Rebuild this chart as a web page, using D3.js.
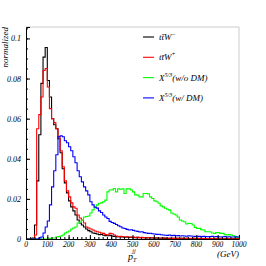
<!DOCTYPE html>
<html>
<head>
<meta charset="utf-8">
<script src="https://cdn.jsdelivr.net/npm/d3@7"></script>
<style>
  body { margin: 0; background: #fff; }
  svg text { font-family: "Liberation Serif", "DejaVu Serif", serif; font-style: italic; }
</style>
</head>
<body>
<div id="chart"></div>
<script>
// 10 GeV bins from 0 to 1000
const binWidth = 10;
const ttWminus = [0,0,0,0.0005,0.007,0.029,0.052,0.0776,0.0907,0.0955,0.079,0.0708,0.060,0.057,0.055,0.050,0.043,0.035,0.028,0.023,
  0.019,0.016,0.014,0.012,0.0095,0.008,0.007,0.006,0.005,0.0042,0.0036,0.003,0.0028,0.0025,0.0022,0.0023,0.0019,0.0017,0.0016,0.0018,
  0.0015,0.0013,0.0012,0.0011,0.0012,0.001,0.0009,0.001,0.0008,0.0009,0.0008,0.0007,0.0008,0.0006,0.0007,0.0006,0.0005,0.0006,0.0005,0.0005,
  0.0004,0.0005,0.0004,0.0004,0.0005,0.0003,0.0004,0.0003,0.0004,0.0003,0.0003,0.0003,0.0002,0.0003,0.0002,0.0003,0.0002,0.0002,0.0003,0.0002,
  0.0002,0.0002,0.0001,0.0002,0.0002,0.0001,0.0002,0.0001,0.0001,0.0002,0.0001,0.0001,0.0001,0.0001,0.0002,0.0001,0.0001,0.0001,0.0001,0.0001];
const ttWplus = [0,0,0,0,0.002,0.055,0.062,0.0708,0.084,0.085,0.0758,0.065,0.060,0.058,0.055,0.051,0.044,0.036,0.029,0.024,
  0.021,0.018,0.016,0.0153,0.012,0.0105,0.0095,0.008,0.006,0.0055,0.005,0.0045,0.004,0.0036,0.0034,0.003,0.0028,0.0022,0.002,0.0028,
  0.0026,0.002,0.0015,0.0012,0.0013,0.0011,0.001,0.0011,0.0009,0.001,0.0009,0.0008,0.0009,0.0007,0.0008,0.0007,0.0006,0.0007,0.0006,0.0006,
  0.0005,0.0006,0.0005,0.0005,0.0004,0.0005,0.0004,0.0004,0.0004,0.0003,0.0004,0.0003,0.0003,0.0004,0.0003,0.0003,0.0003,0.0002,0.0003,0.0003,
  0.0002,0.0003,0.0002,0.0002,0.0002,0.0002,0.0002,0.0002,0.0001,0.0002,0.0002,0.0001,0.0002,0.0001,0.0001,0.0002,0.0001,0.0001,0.0001,0.0001];
const xWithoutDM = [0,0,0,0,0,0,0,0,0,0,0,0.0003,0.0005,0.0005,0.001,0.0012,0.0015,0.002,0.003,0.0035,
  0.004,0.005,0.0055,0.006,0.008,0.0085,0.0095,0.011,0.0112,0.0115,0.013,0.0145,0.016,0.017,0.0178,0.018,0.0186,0.0194,0.0235,0.0244,
  0.0245,0.0252,0.0235,0.025,0.0248,0.025,0.0227,0.025,0.025,0.0244,0.0235,0.022,0.0219,0.021,0.021,0.0227,0.0227,0.0225,0.021,0.0202,
  0.019,0.0186,0.0178,0.0165,0.016,0.0153,0.0148,0.0144,0.013,0.0125,0.012,0.011,0.0095,0.009,0.0086,0.0075,0.0078,0.0077,0.007,0.0058,
  0.0053,0.0053,0.0046,0.0045,0.0036,0.0036,0.0036,0.003,0.0028,0.0032,0.0032,0.0028,0.0028,0.0022,0.002,0.0022,0.002,0.0016,0.0012,0.0008];
const xWithDM = [0,0,0,0,0,0,0.0005,0.001,0.003,0.006,0.009,0.017,0.026,0.034,0.042,0.051,0.0515,0.051,0.049,0.048,
  0.046,0.044,0.041,0.038,0.034,0.031,0.0285,0.026,0.024,0.022,0.0186,0.017,0.0158,0.0154,0.014,0.0132,0.012,0.011,0.0102,0.0088,
  0.0082,0.0078,0.0072,0.0066,0.0061,0.0055,0.0052,0.0048,0.0045,0.0046,0.0043,0.004,0.0038,0.0035,0.0036,0.0032,0.003,0.0028,0.0029,0.0026,
  0.0025,0.0023,0.0024,0.0021,0.002,0.0019,0.0018,0.002,0.0017,0.0018,0.0016,0.0017,0.0015,0.0016,0.0015,0.0014,0.0016,0.0015,0.0014,0.0013,
  0.0014,0.0013,0.0012,0.0013,0.0012,0.0011,0.0012,0.0013,0.0011,0.0012,0.0011,0.001,0.0011,0.0012,0.001,0.0011,0.001,0.001,0.0011,0.001];

const xTicks = [0,100,200,300,400,500,600,700,800,900,1000];
const yTicks = [0,0.02,0.04,0.06,0.08,0.1];
const yTickLabels = ["0","0.02","0.04","0.06","0.08","0.1"];

const series = [
  {name: "ttWminus", values: ttWminus, color: "#000000"},
  {name: "ttWplus", values: ttWplus, color: "#ff0000"},
  {name: "xWithoutDM", values: xWithoutDM, color: "#00ff00"},
  {name: "xWithDM", values: xWithDM, color: "#0000ff"}
];

const width = 266, height = 266;
const margin = {top: 27, right: 27, bottom: 27, left: 26};

const svg = d3.select("#chart").append("svg")
    .attr("width", width)
    .attr("height", height);

const x = d3.scaleLinear().domain([0, 1000]).range([margin.left, width - margin.right]);
const y = d3.scaleLinear().domain([0, 0.1057]).range([height - margin.bottom, margin.top]);

// frame: top and right light grey
svg.append("line").attr("x1", x(0)).attr("x2", x(1000)).attr("y1", y(0.1057)).attr("y2", y(0.1057))
    .attr("stroke", "#cccccc").attr("stroke-width", 1);
svg.append("line").attr("x1", x(1000)).attr("x2", x(1000)).attr("y1", y(0)).attr("y2", y(0.1057))
    .attr("stroke", "#cccccc").attr("stroke-width", 1);

// histograms
const line = d3.line()
    .x(d => x(d[0]))
    .y(d => y(d[1]))
    .curve(d3.curveStepAfter);

series.forEach(s => {
    let pts = s.values.map((v, i) => [i * binWidth, v]);
    pts.push([s.values.length * binWidth, s.values[s.values.length - 1]]);
    svg.append("path")
        .attr("class", "hist " + s.name)
        .attr("d", line(pts))
        .attr("fill", "none")
        .attr("stroke", s.color)
        .attr("stroke-width", 1.1);
});

// axes, ticks inward
const xAxis = d3.axisTop(x).tickValues(xTicks).tickSize(4).tickFormat("");
const xMinor = d3.axisTop(x).tickValues(d3.range(0, 1001, 20)).tickSize(2).tickFormat("");
svg.append("g").attr("transform", `translate(0,${y(0)})`).call(xMinor)
    .call(g => g.select(".domain").remove());
svg.append("g").attr("transform", `translate(0,${y(0)})`).call(xAxis)
    .call(g => g.select(".domain").attr("stroke", "#000"));

const yAxis = d3.axisRight(y).tickValues(yTicks).tickSize(4).tickFormat("");
const yMinor = d3.axisRight(y).tickValues(d3.range(0, 0.1051, 0.005)).tickSize(2).tickFormat("");
svg.append("g").attr("transform", `translate(${x(0)},0)`).call(yMinor)
    .call(g => g.select(".domain").remove());
svg.append("g").attr("transform", `translate(${x(0)},0)`).call(yAxis)
    .call(g => g.select(".domain").attr("stroke", "#000"));

// tick labels
svg.append("g").selectAll("text")
    .data(xTicks)
    .enter().append("text")
    .attr("x", d => x(d))
    .attr("y", y(0) + 8)
    .attr("text-anchor", "middle")
    .attr("font-size", "7.5px")
    .text(d => d);

svg.append("g").selectAll("text")
    .data(yTicks)
    .enter().append("text")
    .attr("x", x(0) - 5)
    .attr("y", d => y(d) + 3)
    .attr("text-anchor", "end")
    .attr("font-size", "8px")
    .text((d, i) => yTickLabels[i]);

// axis titles
svg.append("text")
    .attr("transform", `translate(8, ${margin.top}) rotate(-90)`)
    .attr("text-anchor", "end")
    .attr("font-size", "9px")
    .text("normalized");

const xTitle = svg.append("text")
    .attr("x", 128)
    .attr("y", 260)
    .attr("font-size", "10px");
xTitle.append("tspan").text("p");
xTitle.append("tspan").attr("font-size", "6px").attr("dy", 2).text("T");
xTitle.append("tspan").attr("font-size", "6px").attr("dx", -4).attr("dy", -9).text("jj");

svg.append("text")
    .attr("x", x(1000))
    .attr("y", 257)
    .attr("text-anchor", "end")
    .attr("font-size", "9px")
    .text("(GeV)");

// legend
const legend = svg.append("g").attr("class", "legend");
series.forEach((s, i) => {
    let ly = 37 + i * 20.3;
    legend.append("line")
        .attr("x1", 143).attr("x2", 154)
        .attr("y1", ly).attr("y2", ly)
        .attr("stroke", s.color).attr("stroke-width", 1.1);
    let t = legend.append("text")
        .attr("x", 159).attr("y", ly + 3)
        .attr("font-size", "9px");
    if (i < 2) {
        t.append("tspan").text("tt\u0304W");
        t.append("tspan").attr("font-size", "6px").attr("dy", -4).text(i === 0 ? "\u2212" : "+");
    } else {
        t.append("tspan").text("X");
        t.append("tspan").attr("font-size", "6px").attr("dy", -4).text("5/3");
        t.append("tspan").attr("dy", 4).text(i === 2 ? "(w/o DM)" : "(w/ DM)");
    }
});
</script>
</body>
</html>
